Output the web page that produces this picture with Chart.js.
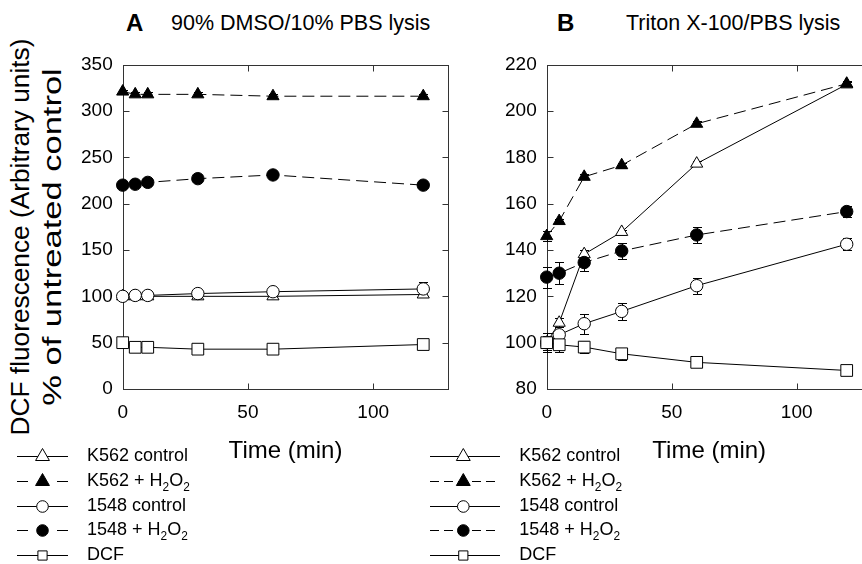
<!DOCTYPE html>
<html>
<head>
<meta charset="utf-8">
<script src="https://cdn.jsdelivr.net/npm/chart.js@4.4.1/dist/chart.umd.min.js"></script>
<style>
  html, body { margin: 0; padding: 0; background: #fff; overflow: hidden; }
  body { width: 862px; height: 564px; position: relative; font-family: "Liberation Sans", Arial, sans-serif; color: #000; }
  canvas { position: absolute; top: 0; }
  #chartA { left: 0; }
  #chartB { left: 420px; }
  .head { position: absolute; white-space: nowrap; }
  .letter { font-weight: bold; font-size: 24px; line-height: 24px; top: 11px; }
  .sub { font-size: 21.5px; line-height: 21.5px; top: 12.5px; }
  .ytitle {
    position: absolute; top: 237px;
    font-size: 25px; line-height: 25px; white-space: nowrap;
  }
  #ytitle1 { left: 20px; transform: translate(-50%, -50%) rotate(-90deg) scaleX(1.05); }
  #ytitle2 { left: 52px; transform: translate(-50%, -50%) rotate(-90deg) scaleX(1.38); }
</style>
</head>
<body>
<div class="head letter" style="left:126px">A</div>
<div class="head sub" style="left:171px">90% DMSO/10% PBS lysis</div>
<div class="head letter" style="left:557px">B</div>
<div class="head sub" style="left:626px">Triton X-100/PBS lysis</div>
<div class="ytitle" id="ytitle1">DCF fluorescence (Arbitrary units)</div>
<div class="ytitle" id="ytitle2">% of untreated control</div>
<canvas id="chartA" width="462" height="564"></canvas>
<canvas id="chartB" width="462" height="564"></canvas>
<script>
const FONT = '"Liberation Sans", Arial, sans-serif';

// time points (min)
const timesA = [0, 5, 10, 30, 60, 120];
const timesB = [0, 5, 15, 30, 60, 120];

// tick labels
const xTicks = [0, 50, 100];
const yTicksA = [0, 50, 100, 150, 200, 250, 300, 350];
const yTicksB = [80, 100, 120, 140, 160, 180, 200, 220];

const seriesLabels = ['K562 control', 'K562 + H₂O₂', '1548 control', '1548 + H₂O₂', 'DCF'];

// panel A: 90% DMSO/10% PBS lysis
const k562CtrlA = [100, 100, 100, 100, 100, 102];
const k562PerA = [321, 318, 318, 318, 316, 316];
const ctrl1548A = [100, 101, 101, 103, 105, 108];
const per1548A = [220, 221, 223, 227, 231, 220];
const dcfA = [50, 45, 45, 43, 43, 48];

const k562CtrlErrA = [1, 1, 1, 1, 1, 2];
const k562PerErrA = [2, 2, 2, 2, 2, 2];
const ctrl1548ErrA = [2, 2, 2, 3, 3, 7];
const per1548ErrA = [3, 3, 3, 3, 3, 3];
const dcfErrA = [2, 2, 2, 2, 2, 2];

// panel B: Triton X-100/PBS lysis
const k562CtrlB = [100, 108.6, 138.2, 147.8, 177.3, 211.5];
const k562PerB = [146, 152.5, 171.6, 176.6, 194.5, 211.8];
const ctrl1548B = [100, 103.4, 108.2, 113.5, 124.6, 142.5];
const per1548B = [128.3, 130, 134.6, 139.6, 146.5, 156.6];
const dcfB = [100, 99.1, 98.1, 95.2, 91.5, 88];

const k562CtrlErrB = [3, 2, 2, 1, 1, 1];
const k562PerErrB = [2, 1, 1, 1, 1, 1];
const ctrl1548ErrB = [4, 2, 4.3, 3.5, 3.5, 2.5];
const per1548ErrB = [4.5, 4.7, 3.5, 3.5, 3.6, 2.5];
const dcfErrB = [3, 3, 2.5, 2.5, 1, 1];

// marker / line styles per series (order: lower is drawn on top)
const seriesStyles = [
    { pointStyle: 'triangle', fill: '#fff', dash: [], radius: 7, legendRadius: 8, order: 4 },
    { pointStyle: 'triangle', fill: '#000', dash: [12, 6], radius: 7, legendRadius: 8, order: 3 },
    { pointStyle: 'circle', fill: '#fff', dash: [], radius: 6.2, legendRadius: 5.8, order: 1 },
    { pointStyle: 'circle', fill: '#000', dash: [12, 6], radius: 6.2, legendRadius: 5.8, order: 2 },
    { pointStyle: 'rect', fill: '#fff', dash: [], radius: 8.3, legendRadius: 6.5, order: 0 }
];

// box round the plot with inward ticks on all four sides
const framePlugin = {
    id: 'frame',
    beforeDatasetsDraw(chart, args, opts) {
        const { ctx, chartArea: a, scales } = chart;
        const t = opts.tickLength;
        ctx.save();
        ctx.strokeStyle = opts.color;
        ctx.lineWidth = 1;
        const l = Math.round(a.left) + 0.5, r = Math.round(a.right) + 0.5;
        const top = Math.round(a.top) + 0.5, bot = Math.round(a.bottom) + 0.5;
        ctx.strokeRect(l, top, r - l, bot - top);
        ctx.beginPath();
        scales.x.ticks.forEach(tk => {
            const x = Math.round(scales.x.getPixelForValue(tk.value)) + 0.5;
            ctx.moveTo(x, bot); ctx.lineTo(x, bot - t);
            ctx.moveTo(x, top); ctx.lineTo(x, top + t);
        });
        scales.y.ticks.forEach(tk => {
            const y = Math.round(scales.y.getPixelForValue(tk.value)) + 0.5;
            ctx.moveTo(l, y); ctx.lineTo(l + t, y);
            ctx.moveTo(r, y); ctx.lineTo(r - t, y);
        });
        ctx.stroke();
        ctx.restore();
    }
};

// vertical error bars with caps, drawn under the markers
const errorBarPlugin = {
    id: 'errorBars',
    beforeDatasetsDraw(chart, args, opts) {
        const { ctx, scales: { y } } = chart;
        ctx.save();
        ctx.strokeStyle = '#000';
        ctx.lineWidth = 1;
        chart.data.datasets.forEach((ds, i) => {
            const meta = chart.getDatasetMeta(i);
            meta.data.forEach((pt, j) => {
                const v = ds.data[j].y, e = ds.errors[j];
                const yTop = Math.round(y.getPixelForValue(v + e)) + 0.5;
                const yBot = Math.round(y.getPixelForValue(v - e)) + 0.5;
                const x = Math.round(pt.x) + 0.5;
                ctx.beginPath();
                ctx.moveTo(x, yTop); ctx.lineTo(x, yBot);
                ctx.moveTo(x - opts.cap, yTop); ctx.lineTo(x + opts.cap, yTop);
                ctx.moveTo(x - opts.cap, yBot); ctx.lineTo(x + opts.cap, yBot);
                ctx.stroke();
            });
        });
        ctx.restore();
    }
};

// text with unicode subscript digits drawn as small lowered digits
function drawLabel(ctx, text, x, y, size) {
    const subs = '₀₁₂₃₄₅₆₇₈₉';
    const runs = [];
    for (const ch of text) {
        const k = subs.indexOf(ch);
        const isSub = k >= 0;
        const c = isSub ? String(k) : ch;
        if (runs.length && runs[runs.length - 1].sub === isSub) runs[runs.length - 1].text += c;
        else runs.push({ text: c, sub: isSub });
    }
    ctx.fillStyle = '#000';
    ctx.textAlign = 'left';
    ctx.textBaseline = 'middle';
    let cx = x;
    runs.forEach(run => {
        const s = run.sub ? size * 0.66 : size;
        ctx.font = `${s}px ${FONT}`;
        ctx.fillText(run.text, cx, run.sub ? y + size * 0.32 : y);
        cx += ctx.measureText(run.text).width;
    });
}

function drawMarker(ctx, style, radius, x, y) {
    if (Chart.helpers && Chart.helpers.drawPoint) {
        Chart.helpers.drawPoint(ctx, { pointStyle: style, radius: radius, rotation: 0, borderWidth: 1 }, x, y);
        return;
    }
    ctx.beginPath();
    if (style === 'circle') ctx.arc(x, y, radius, 0, Math.PI * 2);
    else if (style === 'rect') { const s = radius * Math.SQRT1_2; ctx.rect(x - s, y - s, 2 * s, 2 * s); }
    else { ctx.moveTo(x, y - radius); ctx.lineTo(x + radius * 0.866, y + radius / 2); ctx.lineTo(x - radius * 0.866, y + radius / 2); ctx.closePath(); }
    ctx.fill(); ctx.stroke();
}

// legend: line sample + marker + label, one row per dataset
const sampleLegendPlugin = {
    id: 'sampleLegend',
    afterDraw(chart, args, o) {
        const ctx = chart.ctx;
        chart.data.datasets.forEach((ds, i) => {
            const y = Math.round(o.top + i * o.rowGap) + 0.5;
            ctx.save();
            ctx.strokeStyle = '#000';
            ctx.lineWidth = 1;
            ctx.setLineDash(ds.borderDash.length ? o.dash : []);
            ctx.beginPath();
            ctx.moveTo(o.lineStart, y);
            ctx.lineTo(o.lineEnd, y);
            ctx.stroke();
            ctx.setLineDash([]);
            ctx.fillStyle = ds.pointBackgroundColor;
            drawMarker(ctx, ds.pointStyle, seriesStyles[i].legendRadius, o.markerX, y);
            drawLabel(ctx, ds.label, o.textX, y, o.fontSize);
            ctx.restore();
        });
    }
};

function buildDatasets(times, valueSets, errorSets) {
    return seriesLabels.map((label, i) => ({
        label: label,
        data: times.map((t, j) => ({ x: t, y: valueSets[i][j] })),
        errors: errorSets[i],
        borderColor: '#000',
        borderWidth: 1,
        borderDash: seriesStyles[i].dash,
        pointStyle: seriesStyles[i].pointStyle,
        pointRadius: seriesStyles[i].radius,
        pointBackgroundColor: seriesStyles[i].fill,
        pointBorderColor: '#000',
        pointBorderWidth: 1,
        order: seriesStyles[i].order,
        tension: 0,
        fill: false,
        clip: false
    }));
}

function makePanel(canvasId, times, values, errors, yRange, yTicks, layout, legend) {
    return new Chart(document.getElementById(canvasId), {
        type: 'line',
        data: { datasets: buildDatasets(times, values, errors) },
        options: {
            responsive: false,
            animation: false,
            devicePixelRatio: 1,
            events: [],
            layout: { padding: layout.padding },
            scales: {
                x: {
                    type: 'linear',
                    min: 0,
                    max: 130,
                    afterBuildTicks: s => { s.ticks = xTicks.map(v => ({ value: v })); },
                    afterFit: s => { s.height = layout.xHeight; },
                    grid: { display: false, drawTicks: false },
                    border: { display: false },
                    ticks: { font: { family: FONT, size: 19 }, color: '#000', padding: 12, maxRotation: 0 },
                    title: {
                        display: true,
                        text: 'Time (min)',
                        color: '#000',
                        font: { family: FONT, size: 24 },
                        padding: { top: 0, bottom: 4 }
                    }
                },
                y: {
                    type: 'linear',
                    min: yRange[0],
                    max: yRange[1],
                    afterBuildTicks: s => { s.ticks = yTicks.map(v => ({ value: v })); },
                    afterFit: s => { s.width = layout.yWidth; },
                    grid: { display: false, drawTicks: false },
                    border: { display: false },
                    ticks: { font: { family: FONT, size: 19 }, color: '#000', padding: 10 }
                }
            },
            plugins: {
                legend: { display: false },
                tooltip: { enabled: false },
                frame: { color: '#333', tickLength: 6 },
                errorBars: { cap: 4.5 },
                sampleLegend: legend
            }
        },
        plugins: [framePlugin, errorBarPlugin, sampleLegendPlugin]
    });
}

makePanel('chartA', timesA,
    [k562CtrlA, k562PerA, ctrl1548A, per1548A, dcfA],
    [k562CtrlErrA, k562PerErrA, ctrl1548ErrA, per1548ErrA, dcfErrA],
    [0, 350], yTicksA,
    { padding: { left: 0, top: 64.7, right: 13.7, bottom: 94 }, xHeight: 81, yWidth: 122.7 },
    { lineStart: 17, lineEnd: 68, markerX: 42.5, textX: 87, top: 456, rowGap: 24.75, dash: [11, 29], fontSize: 18 });

makePanel('chartB', timesB,
    [k562CtrlB, k562PerB, ctrl1548B, per1548B, dcfB],
    [k562CtrlErrB, k562PerErrB, ctrl1548ErrB, per1548ErrB, dcfErrB],
    [80, 220], yTicksB,
    { padding: { left: 0, top: 64.7, right: 10.3, bottom: 94 }, xHeight: 81, yWidth: 126.7 },
    { lineStart: 10, lineEnd: 80, markerX: 43.3, textX: 99.3, top: 456, rowGap: 24.75, dash: [9, 5], fontSize: 18 });
</script>
</body>
</html>
